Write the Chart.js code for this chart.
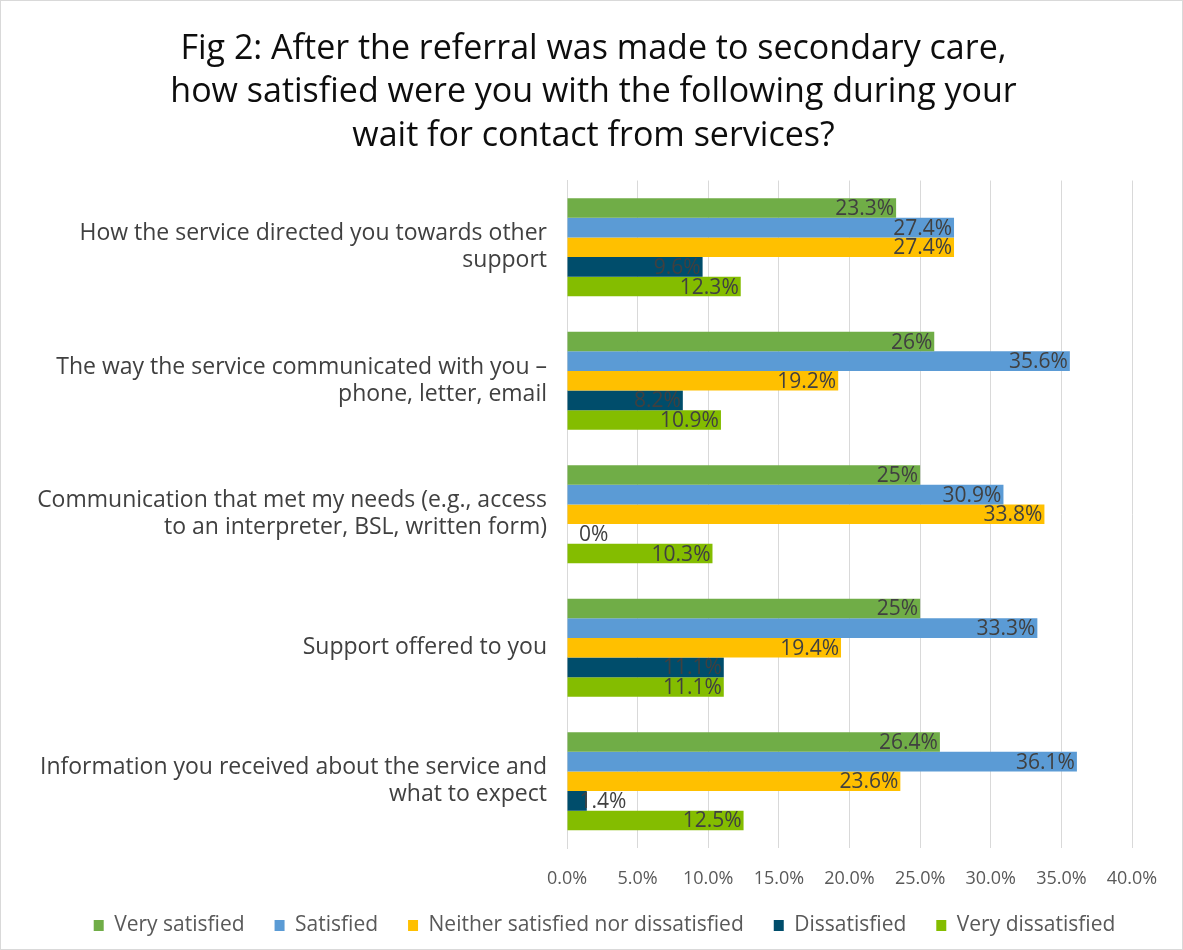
<!DOCTYPE html>
<html>
<head>
<meta charset="utf-8">
<script src="https://cdn.jsdelivr.net/npm/chart.js@4"></script>
<style>
  html, body { margin: 0; padding: 0; background: #fff; }
  #wrap { width: 1181px; height: 948px; border: 1px solid #d9d9d9; }
</style>
</head>
<body>
<div id="wrap"><canvas id="satisfactionChart" width="1181" height="948"></canvas></div>
<script>
/* Fig 2 - удовлетворённость ожиданием */

const categories = [
  ['How the service directed you towards other', 'support'],
  ['The way the service communicated with you –', 'phone, letter, email'],
  ['Communication that met my needs (e.g., access', 'to an interpreter, BSL, written form)'],
  'Support offered to you',
  ['Information you received about the service and', 'what to expect']
];
const verySatisfied    = [23.3, 26, 25, 25, 26.4];
const satisfied        = [27.4, 35.6, 30.9, 33.3, 36.1];
const neither          = [27.4, 19.2, 33.8, 19.4, 23.6];
const dissatisfied     = [9.6, 8.2, 0, 11.1, 1.4];
const veryDissatisfied = [12.3, 10.9, 10.3, 11.1, 12.5];
const xTicks = [0, 5, 10, 15, 20, 25, 30, 35, 40];

const FONT = "'Open Sans', sans-serif";

// подписи значений у конца столбца
const barLabels = {
  id: 'barLabels',
  afterDatasetsDraw(chart) {
    const c = chart.ctx;
    c.save();
    c.font = '21px ' + FONT;
    c.fillStyle = '#404040';
    c.textBaseline = 'middle';
    chart.data.datasets.forEach((ds, i) => {
      const meta = chart.getDatasetMeta(i);
      meta.data.forEach((bar, j) => {
        const txt = ds.data[j] + '%';
        const w = c.measureText(txt).width;
        let left = bar.x - 2 - w;
        if (left < bar.base + 12) left = bar.base + 12;
        c.textAlign = 'left';
        c.fillText(txt, left, bar.y + 1);
      });
    });
    c.restore();
  }
};

// сдвиг заголовка и легенды вправо, как в оригинале
const shiftBlocks = {
  id: 'shiftBlocks',
  afterLayout(chart) {
    if (chart.titleBlock) { chart.titleBlock.left += 22; chart.titleBlock.right += 22; }
    if (chart.legend) { chart.legend.left += 33; chart.legend.right += 33; }
  }
};

const ctx = document.getElementById('satisfactionChart').getContext('2d');
const satisfactionChart = new Chart(ctx, {
  type: 'bar',
  data: {
    labels: categories,
    datasets: [
      { label: 'Very satisfied', data: verySatisfied, backgroundColor: '#70AD47' },
      { label: 'Satisfied', data: satisfied, backgroundColor: '#5B9BD5' },
      { label: 'Neither satisfied nor dissatisfied', data: neither, backgroundColor: '#FFC000' },
      { label: 'Dissatisfied', data: dissatisfied, backgroundColor: '#004D6B' },
      { label: 'Very dissatisfied', data: veryDissatisfied, backgroundColor: '#84BD00' }
    ]
  },
  options: {
    indexAxis: 'y',
    responsive: false,
    animation: false,
    barPercentage: 1,
    categoryPercentage: 0.735,
    layout: { padding: { left: 10, right: 50, top: 27, bottom: 3 } },
    plugins: {
      title: {
        display: true,
        text: ['Fig 2: After the referral was made to secondary care,',
               'how satisfied were you with the following during your',
               'wait for contact from services?'],
        color: '#0d0d0d',
        font: { family: FONT, size: 34, weight: 'normal', lineHeight: 1.27 },
        padding: { top: 0, bottom: 23 }
      },
      legend: {
        position: 'bottom',
        labels: {
          color: '#595959',
          font: { family: FONT, size: 21 },
          boxWidth: 10,
          boxHeight: 11,
          padding: 30
        }
      },
      tooltip: { enabled: false }
    },
    scales: {
      x: {
        min: 0,
        max: 40,
        afterBuildTicks: function(scale) {
          scale.ticks = xTicks.map(v => ({ value: v }));
        },
        afterFit: function(scale) { scale.height = 37; },
        ticks: {
          color: '#595959',
          font: { family: FONT, size: 18 },
          padding: 20,
          callback: function(value) {
            return value.toFixed(1) + '%';
          }
        },
        grid: { color: '#d9d9d9', drawTicks: false },
        border: { display: false }
      },
      y: {
        afterFit: function(scale) { scale.width = 556; },
        ticks: {
          color: '#404040',
          font: { family: FONT, size: 23, lineHeight: 1.18 },
          padding: 12
        },
        grid: { display: false },
        border: { display: true, color: '#d9d9d9' }
      }
    }
  },
  plugins: [barLabels, shiftBlocks]
});
</script>
</body>
</html>
